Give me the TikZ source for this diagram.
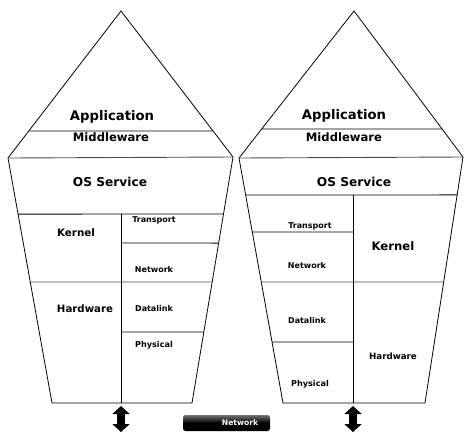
\documentclass[tikz,border=0pt]{standalone}
\usepackage{fontspec}
\setmainfont{DejaVu Sans}
\usetikzlibrary{calc,arrows.meta}
\begin{document}
\begin{tikzpicture}[x=1pt,y=-1pt,
  txt/.style={anchor=base, inner sep=0pt, font=\bfseries\fontsize{#1}{#1}\selectfont},
  outline/.style={draw=black, line width=0.8pt, line join=miter},
  sep/.style={draw=black, line width=0.8pt},
  grey sep/.style={draw=black!70, line width=0.9pt},
  bidir/.style={line width=8pt, {Triangle[length=8pt,width=17pt]}-{Triangle[length=8pt,width=17pt]}},
  netbox/.style={rounded corners=2.5pt, top color=black!55, bottom color=black, middle color=black}]
\useasboundingbox (0,0) rectangle (464,432);

% ---------- left stack ----------
\coordinate (LA)  at (121,11);
\coordinate (LL)  at (8,158);
\coordinate (LR)  at (233,157);
\coordinate (LBL) at (52,403);
\coordinate (LBR) at (192,403);
\coordinate (LD)  at (121,403);

\draw[outline] (LA) -- (LL) -- (LBL) -- (LBR) -- (LR) -- cycle;
\draw[grey sep] (LL) -- (LR);
\draw[sep] ($(LA)!0.816!(LL)$) -- ($(LA)!0.822!(LR)$);
\draw[sep] ($(LL)!0.229!(LBL)$) -- ($(LR)!0.232!(LBR)$);
\draw[sep] (121,214) -- (LD);
\draw[sep] (121,243) -- ($(LR)!0.350!(LBR)$);
\draw[grey sep] ($(LL)!0.506!(LBL)$) -- ($(LR)!0.508!(LBR)$);
\draw[sep] (121,332) -- ($(LR)!0.711!(LBR)$);

\node (lapp)  [txt=13.2] at (112,120)   {Application};
\node (lmid)  [txt=11.6] at (111,141.7) {Middleware};
\node (los)   [txt=12.2] at (110,186.7) {OS Service};
\node (lker)  [txt=10.3] at (76,236.7)  {Kernel};
\node (lhw)   [txt=10.2] at (85,312)    {Hardware};
\node (ltr)   [txt=8]    at (154,222.7) {Transport};
\node (lnet)  [txt=8]    at (154,272)   {Network};
\node (ldl)   [txt=8]    at (154,311.7) {Datalink};
\node (lph)   [txt=8.1]  at (154,347.3) {Physical};

% ---------- right stack ----------
\coordinate (RA)  at (354,11);
\coordinate (RL)  at (239,158);
\coordinate (RR)  at (463,157);
\coordinate (RBL) at (283,403);
\coordinate (RBR) at (425,403);
\coordinate (RD)  at (353,403);

\draw[outline] (RA) -- (RL) -- (RBL) -- (RBR) -- (RR) -- cycle;
\draw[grey sep] (RL) -- (RR);
\draw[sep] ($(RA)!0.803!(RL)$) -- ($(RA)!0.808!(RR)$);
\draw[sep] ($(RL)!0.151!(RBL)$) -- ($(RR)!0.154!(RBR)$);
\draw[sep] (353,195) -- (RD);
\draw[sep] ($(RL)!0.302!(RBL)$) -- (353,232);
\draw[grey sep] ($(RL)!0.506!(RBL)$) -- ($(RR)!0.508!(RBR)$);
\draw[sep] ($(RL)!0.751!(RBL)$) -- (353,342);

\node (rapp)  [txt=13.2] at (344,119.3) {Application};
\node (rmid)  [txt=11.6] at (344,141.7) {Middleware};
\node (ros)   [txt=12.2] at (354,186.7) {OS Service};
\node (rtr)   [txt=8]    at (310,228.3) {Transport};
\node (rker)  [txt=11.7] at (393,250)   {Kernel};
\node (rnet)  [txt=8]    at (307,268.3) {Network};
\node (rdl)   [txt=8]    at (307,323.7) {Datalink};
\node (rhw)   [txt=8.7]  at (393,359)   {Hardware};
\node (rph)   [txt=8.1]  at (310,386.7) {Physical};

% ---------- links to the network ----------
\coordinate (lend) at (121,432);
\coordinate (rend) at (353,432);
\draw[bidir] ($(LD)+(0,3)$) -- (lend);
\draw[bidir] ($(RD)+(0,3)$) -- (rend);

\shade[netbox] (183,415) rectangle (270,431);
\node (net) [txt=7.6, text=white] at (240,425.7) {Network};
\end{tikzpicture}
\end{document}
